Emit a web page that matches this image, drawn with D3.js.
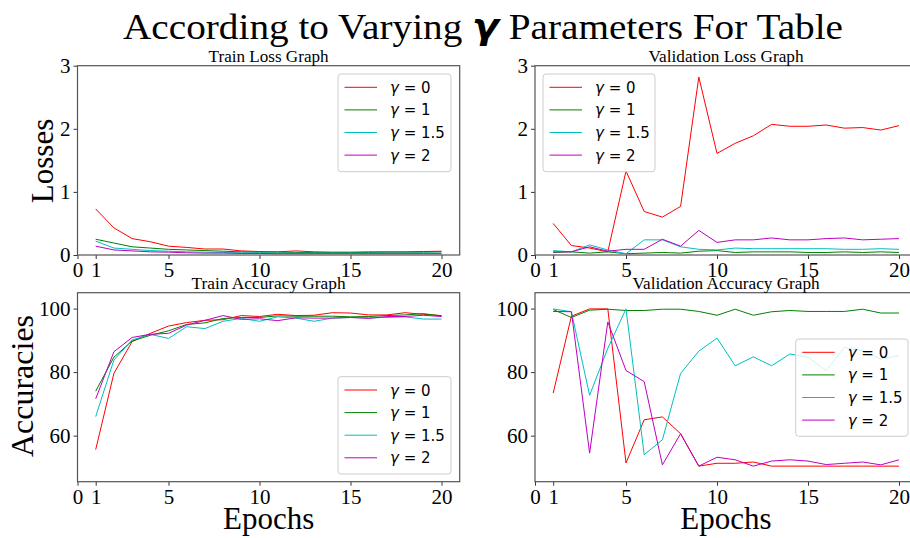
<html>
<head>
<meta charset="utf-8">
<style>
  body { margin: 0; background: #fff; }
  svg text { fill: #000; }
</style>
</head>
<body>
<script src="https://d3js.org/d3.v7.min.js"></script>
<div id="my_dataviz"></div>
<script>
// epochs and series
var epochs = [1, 2, 3, 4, 5, 6, 7, 8, 9, 10, 11, 12, 13, 14, 15, 16, 17, 18, 19, 20];
var gammaLabels = ["0", "1", "1.5", "2"];
var xTicks = [0, 1, 5, 10, 15, 20];
var lossTicks = [0, 1, 2, 3];
var accTicks = [60, 80, 100];

var trainLoss0  = [0.73, 0.43, 0.26, 0.21, 0.14, 0.12, 0.095, 0.095, 0.065, 0.055, 0.05, 0.065, 0.05, 0.045, 0.045, 0.05, 0.05, 0.05, 0.055, 0.06];
var trainLoss1  = [0.25, 0.19, 0.13, 0.11, 0.09, 0.08, 0.07, 0.06, 0.05, 0.045, 0.045, 0.04, 0.04, 0.04, 0.04, 0.04, 0.045, 0.045, 0.045, 0.05];
var trainLoss15 = [0.22, 0.11, 0.09, 0.07, 0.06, 0.05, 0.045, 0.04, 0.035, 0.035, 0.03, 0.03, 0.03, 0.03, 0.03, 0.03, 0.03, 0.03, 0.03, 0.03];
var trainLoss2  = [0.14, 0.08, 0.065, 0.05, 0.045, 0.035, 0.03, 0.03, 0.025, 0.025, 0.02, 0.02, 0.02, 0.02, 0.02, 0.02, 0.02, 0.02, 0.02, 0.02];

var valLoss0  = [0.50, 0.15, 0.11, 0.05, 1.33, 0.69, 0.60, 0.77, 2.82, 1.61, 1.77, 1.89, 2.07, 2.04, 2.04, 2.06, 2.01, 2.02, 1.98, 2.05];
var valLoss1  = [0.04, 0.05, 0.03, 0.05, 0.02, 0.03, 0.04, 0.03, 0.06, 0.07, 0.04, 0.05, 0.05, 0.05, 0.04, 0.04, 0.05, 0.04, 0.05, 0.04];
var valLoss15 = [0.07, 0.05, 0.16, 0.08, 0.02, 0.24, 0.24, 0.13, 0.09, 0.08, 0.11, 0.10, 0.10, 0.10, 0.10, 0.10, 0.09, 0.09, 0.10, 0.09];
var valLoss2  = [0.05, 0.05, 0.13, 0.06, 0.09, 0.09, 0.25, 0.14, 0.39, 0.20, 0.24, 0.24, 0.27, 0.24, 0.24, 0.26, 0.27, 0.24, 0.25, 0.26];

var trainAcc0  = [55.6, 79.6, 89.6, 92.2, 94.5, 95.6, 96.3, 96.5, 97.8, 97.5, 98.2, 97.8, 97.9, 98.7, 98.6, 98.0, 98.0, 98.7, 98.2, 97.8];
var trainAcc1  = [74.0, 84.7, 89.8, 91.6, 93.0, 95.0, 95.5, 96.9, 97.2, 97.2, 97.7, 97.6, 97.6, 97.6, 97.4, 97.5, 97.8, 98.0, 98.4, 97.7];
var trainAcc15 = [66.0, 83.8, 90.1, 91.9, 90.6, 94.3, 93.7, 96.0, 96.9, 96.0, 97.4, 97.0, 96.0, 97.0, 97.2, 97.1, 97.2, 97.4, 96.7, 96.7];
var trainAcc2  = [71.6, 86.4, 90.9, 91.9, 92.2, 94.8, 96.3, 97.8, 96.6, 96.8, 96.2, 97.1, 97.0, 97.0, 97.2, 96.9, 97.5, 97.5, 97.9, 97.5];

var valAcc0  = [73.4, 97.6, 99.9, 99.9, 51.4, 65.0, 65.9, 60.6, 50.4, 51.3, 51.3, 51.7, 50.4, 50.4, 50.4, 50.4, 50.4, 50.4, 50.4, 50.4];
var valAcc1  = [99.7, 97.2, 99.5, 99.8, 99.4, 99.4, 99.8, 99.8, 99.1, 97.9, 99.8, 97.9, 99.0, 99.4, 99.1, 99.1, 99.1, 99.8, 98.6, 98.6];
var valAcc15 = [99.9, 99.0, 72.7, 87.5, 99.9, 54.0, 58.7, 79.6, 86.6, 90.7, 82.0, 84.8, 82.0, 85.7, 84.7, 80.5, 87.8, 86.7, 84.1, 85.2];
var valAcc2  = [99.1, 99.0, 54.5, 95.8, 80.5, 77.0, 50.8, 60.6, 50.4, 53.2, 52.4, 50.4, 52.0, 52.4, 52.0, 50.9, 51.3, 51.7, 50.8, 52.4];

var colors = ["#ff0000", "#008000", "#00bfbf", "#bf00bf"];
var serif = "'Liberation Serif', 'DejaVu Serif', serif";
var sans = "'DejaVu Sans', sans-serif";

var W = 910, H = 538;
var svg = d3.select("#my_dataviz").append("svg")
    .attr("width", W).attr("height", H);

// panel layout
var panels = [
  {title: "Train Loss Graph", tw: 120, x0: 77.5, x1: 459.7, y0: 65.7, y1: 255, dom: [0, 3], ticks: lossTicks,
   series: [trainLoss0, trainLoss1, trainLoss15, trainLoss2], legend: [338, 74, 113, 97.7]},
  {title: "Validation Loss Graph", tw: 155, x0: 535, x1: 917.2, y0: 65.7, y1: 255, dom: [0, 3], ticks: lossTicks,
   series: [valLoss0, valLoss1, valLoss15, valLoss2], legend: [543, 74, 112, 97.7]},
  {title: "Train Accuracy Graph", tw: 154, x0: 77.5, x1: 459.7, y0: 292.7, y1: 481.7, dom: [45.5, 105], ticks: accTicks,
   series: [trainAcc0, trainAcc1, trainAcc15, trainAcc2], legend: [338, 376.7, 113, 97.3]},
  {title: "Validation Accuracy Graph", tw: 187, x0: 535, x1: 917.2, y0: 292.7, y1: 481.7, dom: [45.5, 105], ticks: accTicks,
   series: [valAcc0, valAcc1, valAcc15, valAcc2], legend: [795.7, 339, 112.3, 97.3]}
];

panels.forEach(function(p, pi) {
  var x = d3.scaleLinear().domain([0, 21]).range([p.x0, p.x1]);
  var y = d3.scaleLinear().domain(p.dom).range([p.y1, p.y0]);
  var g = svg.append("g");

  // lines
  var line = d3.line()
    .x(function(d, i) { return x(epochs[i]); })
    .y(function(d) { return y(d); });
  p.series.forEach(function(s, si) {
    g.append("path")
      .datum(s)
      .attr("d", line)
      .attr("fill", "none")
      .attr("stroke", colors[si])
      .attr("stroke-width", 1);
  });

  // axes
  var xa = g.append("g")
    .attr("transform", "translate(0," + p.y1 + ")")
    .call(d3.axisBottom(x).tickValues(xTicks).tickFormat(d3.format("d")).tickSize(4).tickPadding(3));
  var ya = g.append("g")
    .attr("transform", "translate(" + p.x0 + ",0)")
    .call(d3.axisLeft(y).tickValues(p.ticks).tickFormat(d3.format("d")).tickSize(4).tickPadding(3));
  [xa, ya].forEach(function(a) {
    a.select(".domain").remove();
    a.selectAll("line").attr("stroke", "#000").attr("stroke-width", 0.8);
    a.selectAll("text")
      .style("font-family", serif)
      .style("font-size", "21px")
      .attr("fill", "#000");
  });

  // frame
  g.append("rect")
    .attr("x", p.x0).attr("y", p.y0)
    .attr("width", p.x1 - p.x0).attr("height", p.y1 - p.y0)
    .attr("fill", "none").attr("stroke", "#555").attr("stroke-width", 1.2);

  // subplot title
  g.append("text")
    .attr("x", (p.x0 + p.x1) / 2).attr("y", p.y0 - 4)
    .attr("text-anchor", "middle")
    .attr("textLength", p.tw).attr("lengthAdjust", "spacingAndGlyphs")
    .style("font-family", serif).style("font-size", "16px")
    .text(p.title);

  // legend
  var L = p.legend;
  var lg = g.append("g");
  lg.append("rect")
    .attr("x", L[0]).attr("y", L[1]).attr("width", L[2]).attr("height", L[3])
    .attr("rx", 3).attr("fill", "#fff").attr("fill-opacity", 0.8)
    .attr("stroke", "#ccc").attr("stroke-width", 1);
  gammaLabels.forEach(function(lab, i) {
    var cy = L[1] + 13.3 + i * 22.6;
    lg.append("line")
      .attr("x1", L[0] + 6.5).attr("x2", L[0] + 39)
      .attr("y1", cy).attr("y2", cy)
      .attr("stroke", colors[i]).attr("stroke-width", 1);
    var t = lg.append("text")
      .attr("x", L[0] + 52).attr("y", cy + 5.5)
      .style("font-family", sans).style("font-size", "15px");
    t.append("tspan").style("font-style", "italic").text("γ");
    t.append("tspan").text(" = " + lab);
  });
});

// axis labels
svg.append("text")
  .attr("transform", "translate(53,161) rotate(-90)")
  .attr("text-anchor", "middle")
  .style("font-family", serif).style("font-size", "31px")
  .text("Losses");
svg.append("text")
  .attr("transform", "translate(33,386) rotate(-90)")
  .attr("text-anchor", "middle")
  .style("font-family", serif).style("font-size", "32px")
  .text("Accuracies");
[268.6, 726].forEach(function(cx) {
  svg.append("text")
    .attr("x", cx).attr("y", 529)
    .attr("text-anchor", "middle")
    .style("font-family", serif).style("font-size", "31px")
    .text("Epochs");
});

// main title
var title = svg.append("text")
  .attr("x", 483).attr("y", 39)
  .attr("text-anchor", "middle")
  .attr("textLength", 720).attr("lengthAdjust", "spacingAndGlyphs")
  .style("font-family", serif).style("font-size", "35px");
title.append("tspan").text("According to Varying ");
title.append("tspan")
  .style("font-family", sans).style("font-style", "italic").style("font-weight", "bold")
  .text("γ");
title.append("tspan").text(" Parameters For Table");
</script>
</body>
</html>
